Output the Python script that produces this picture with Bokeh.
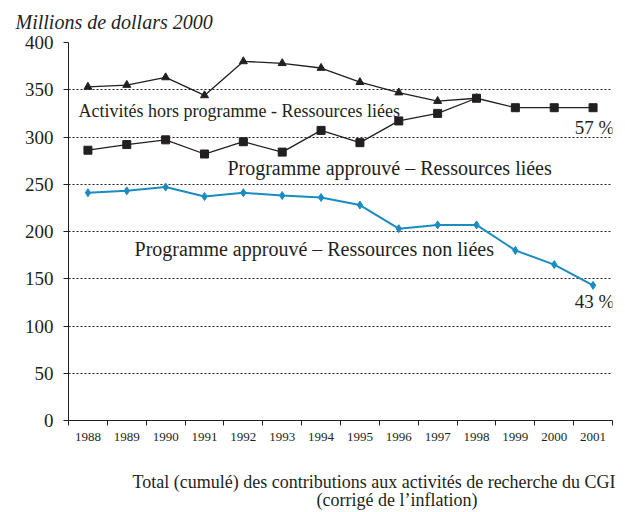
from bokeh.plotting import figure
from bokeh.models import Range1d, FixedTicker, Label, Title
from bokeh.embed import file_html
from bokeh.resources import INLINE

years = list(range(1988, 2002))
hors_prog = [353, 355, 363, 344, 380, 378, 373, 358, 347, 338, 341]
appr_liees = [286, 292, 297, 282, 295, 284, 307, 294, 317, 325, 341, 331, 331, 331]
appr_non_liees = [241, 243, 247, 237, 241, 238, 236, 228, 203, 207, 207, 180, 165, 143]
y_ticks = [0, 50, 100, 150, 200, 250, 300, 350, 400]

FONT = "Liberation Serif"
INK = "#231f20"
BLUE = "#1a8cc2"

p = figure(output_backend="svg", toolbar_location=None,
           frame_width=544, frame_height=378,
           min_border_left=68, min_border_right=4, min_border_top=42, min_border_bottom=91,
           x_range=Range1d(1987.5, 2001.5), y_range=Range1d(0, 400))
p.outline_line_color = None
p.xgrid.grid_line_color = None
p.ygrid.grid_line_color = INK
p.ygrid.grid_line_dash = "2 2"
p.ygrid.grid_line_width = 1
p.ygrid.ticker = FixedTicker(ticks=y_ticks)

p.yaxis.ticker = FixedTicker(ticks=y_ticks)
p.yaxis.axis_line_color = INK
p.yaxis.major_tick_line_color = INK
p.yaxis.major_tick_in = 0
p.yaxis.major_tick_out = 5
p.yaxis.minor_tick_line_color = None
p.yaxis.major_label_text_font = FONT
p.yaxis.major_label_text_font_size = "19px"
p.yaxis.major_label_text_color = INK
p.yaxis.major_label_standoff = 10

p.xaxis.ticker = FixedTicker(ticks=years, minor_ticks=[y - 0.5 for y in years] + [years[-1] + 0.5])
p.xaxis.axis_line_color = INK
p.xaxis.major_tick_line_color = None
p.xaxis.minor_tick_line_color = INK
p.xaxis.minor_tick_in = 0
p.xaxis.minor_tick_out = 5
p.xaxis.major_label_text_font = FONT
p.xaxis.major_label_text_font_size = "13px"
p.xaxis.major_label_text_color = INK
p.xaxis.major_label_standoff = 6

# top title (y unit)
p.title = Title(text="Millions de dollars 2000", align="left", offset=-53,
                vertical_align="top", text_font=FONT, text_font_size="20px",
                text_font_style="italic", text_color=INK, standoff=15)

# bottom titles
p.add_layout(Title(text="Total (cumulé) des contributions aux activités de recherche du CGI",
                   align="left", offset=64, vertical_align="top", text_font=FONT,
                   text_font_size="18px", text_font_style="normal", text_color=INK,
                   standoff=56), "below")
p.add_layout(Title(text="(corrigé de l’inflation)", align="left", offset=248,
                   vertical_align="top", text_font=FONT, text_font_size="18px",
                   text_font_style="normal", text_color=INK, standoff=-64), "below")

# lines
p.line(years[:len(hors_prog)], hors_prog, line_color=INK, line_width=1.3)
p.line(years, appr_liees, line_color=INK, line_width=1.3)
p.line(years, appr_non_liees, line_color=BLUE, line_width=2)
p.scatter(years[:len(hors_prog)], hors_prog, marker="triangle", size=8,
          fill_color=INK, line_color=INK)
p.scatter(years, appr_liees, marker="square", size=8, fill_color=INK, line_color=INK)
p.scatter(years, appr_non_liees, marker="diamond", size=8, fill_color=BLUE, line_color=BLUE)

def lab(x, y, t, size="18px", align="left"):
    p.add_layout(Label(x=x, y=y, text=t, text_font=FONT, text_font_size=size,
                       text_color=INK, text_align=align, text_baseline="middle"))

lab(1987.76, 328, "Activités hors programme - Ressources liées")
lab(1991.59, 267.7, "Programme approuvé – Ressources liées", size="20px")
lab(1989.2, 181, "Programme approuvé – Ressources non liées", size="20px")
lab(2001.55, 310, "57 %", size="19px", align="right")
lab(2001.55, 126, "43 %", size="19px", align="right")

open("out.html", "w").write(file_html(p, INLINE))
